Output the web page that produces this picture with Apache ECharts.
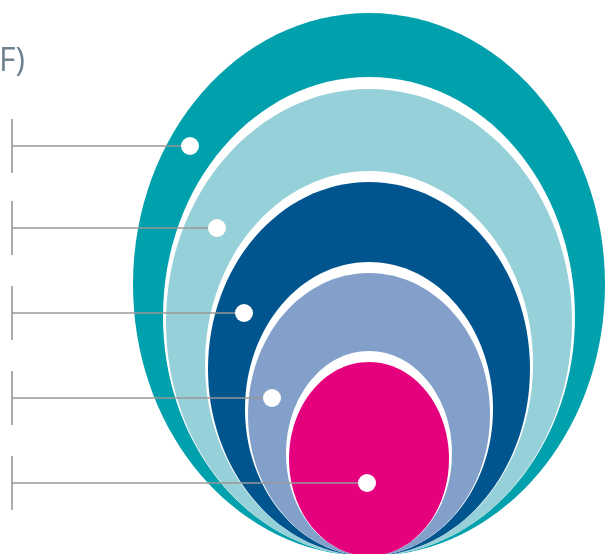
<!DOCTYPE html>
<html>
<head>
<meta charset="utf-8">
<script src="https://cdn.jsdelivr.net/npm/echarts@6/dist/echarts.min.js"></script>
<style>
html,body{margin:0;padding:0;background:#fff;}
#chart{width:605px;height:554px;}
</style>
</head>
<body>
<div id="chart"></div>
<script>
// Nested rings (outer -> core)
const ringNames = ['Ring 1', 'Ring 2', 'Ring 3', 'Ring 4', 'Core'];
const ringHalfWidths = [236, 203, 161, 121, 80];
const ringTops = [13, 89, 182, 273, 362];
const ringBottom = 556;
const ringCenterX = 369;
const ringColors = ['#00A1AD', '#96D0D8', '#00558F', '#82A0C9', '#E5007E'];
const ringGapTop = [0, 12, 11, 11, 11];
const ringGapSide = [0, 3, 3, 3, 3];

// Leader lines with dots
const leaderY = [146, 228, 313, 398, 483];
const leaderDotX = [190, 217, 244, 272, 367];
const leaderStartX = 12;
const leaderTickHalf = 27;

const titleText = 'F)';

const chart = echarts.init(document.getElementById('chart'), null, {renderer: 'canvas'});

const ringData = ringNames.map((n, i) => [ringCenterX, ringTops[i], ringHalfWidths[i], ringGapTop[i], ringGapSide[i]]);
const leaderData = leaderY.map((y, i) => [leaderStartX, y, leaderDotX[i]]);

chart.setOption({
  animation: false,
  backgroundColor: '#ffffff',
  title: {
    text: titleText,
    left: -6,
    top: 41,
    textStyle: {fontSize: 32, fontWeight: 'normal', color: '#6E8290', fontFamily: 'Open Sans'}
  },
  grid: {left: 0, right: 0, top: 0, bottom: 0},
  xAxis: {type: 'value', min: 0, max: 605, show: false},
  yAxis: {type: 'value', min: 0, max: 554, inverse: true, show: false},
  series: [
    {
      type: 'custom',
      coordinateSystem: 'cartesian2d',
      data: ringData,
      encode: {x: 0, y: 1},
      z: 1,
      renderItem: function (params, api) {
        const i = params.dataIndex;
        const cxv = api.value(0), top = api.value(1), rxv = api.value(2);
        const gapT = api.value(3), gapS = api.value(4);
        const c = api.coord([cxv, (top + ringBottom) / 2]);
        const rx = api.size([rxv, 0])[0];
        const ry = api.size([0, (ringBottom - top) / 2])[1];
        const children = [];
        if (gapT > 0) {
          const wc = api.coord([cxv, (top - gapT + ringBottom) / 2]);
          const wry = api.size([0, (ringBottom - top + gapT) / 2])[1];
          const wrx = api.size([rxv + gapS, 0])[0];
          children.push({type: 'ellipse', shape: {cx: wc[0], cy: wc[1], rx: wrx, ry: wry}, style: {fill: '#ffffff'}});
        }
        children.push({type: 'ellipse', shape: {cx: c[0], cy: c[1], rx: rx, ry: ry}, style: {fill: ringColors[i]}});
        return {type: 'group', children: children};
      }
    },
    {
      type: 'custom',
      coordinateSystem: 'cartesian2d',
      data: leaderData,
      encode: {x: 0, y: 1},
      z: 5,
      renderItem: function (params, api) {
        const x0 = api.value(0), y = api.value(1), x1 = api.value(2);
        const p0 = api.coord([x0, y]);
        const p1 = api.coord([x1, y]);
        const t0 = api.coord([x0, y - leaderTickHalf]);
        const t1 = api.coord([x0, y + leaderTickHalf]);
        return {
          type: 'group',
          children: [
            {type: 'line', shape: {x1: p0[0], y1: p0[1], x2: p1[0], y2: p1[1]}, style: {stroke: '#999999', lineWidth: 1.5}},
            {type: 'line', shape: {x1: t0[0], y1: t0[1], x2: t1[0], y2: t1[1]}, style: {stroke: '#909090', lineWidth: 1.5}},
            {type: 'circle', shape: {cx: p1[0], cy: p1[1], r: 9}, style: {fill: '#ffffff'}}
          ]
        };
      }
    }
  ]
});
</script>
</body>
</html>
